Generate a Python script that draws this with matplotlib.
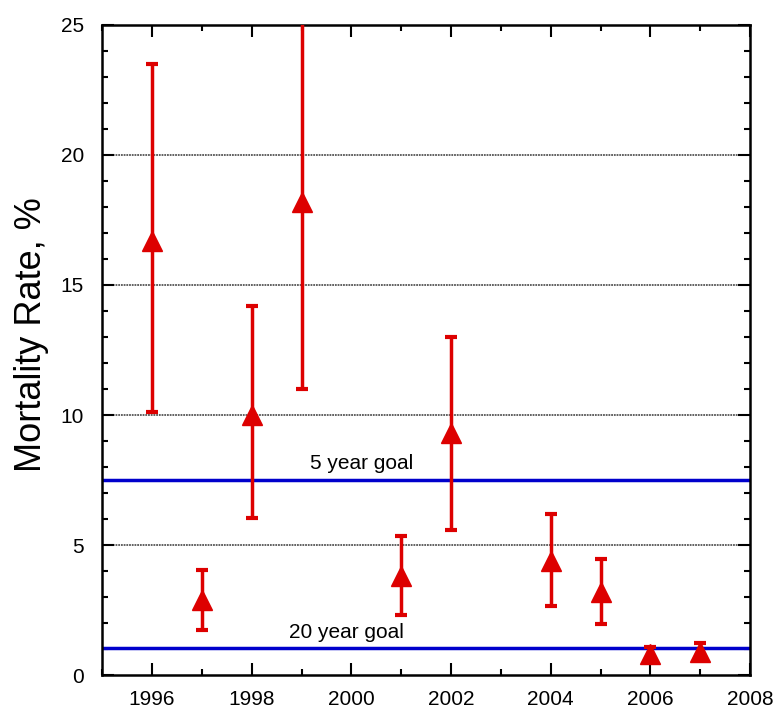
import matplotlib.pyplot as plt
import numpy as np
from matplotlib.ticker import MultipleLocator

plt.rcParams['font.family'] = ['Liberation Sans', 'DejaVu Sans']

# Mortality rate by year with error bar ranges
years = [1996, 1997, 1998, 1999, 2001, 2002, 2004, 2005, 2006, 2007]
rate = [16.7, 2.9, 10.0, 18.2, 3.8, 9.3, 4.4, 3.2, 0.8, 0.9]
low = [10.1, 1.75, 6.05, 11.0, 2.3, 5.6, 2.65, 1.95, 0.6, 0.75]
high = [23.5, 4.05, 14.2, 26.0, 5.35, 13.0, 6.2, 4.45, 1.1, 1.25]

goal_5yr = 7.5
goal_20yr = 1.05
grid_levels = [5, 10, 15, 20]

rate = np.array(rate)
yerr = [rate - np.array(low), np.array(high) - rate]

fig = plt.figure(figsize=(7.74, 7.10), dpi=100)
ax = fig.add_axes([0.132, 0.049, 0.837, 0.916])

# gridlines and goal lines
for g in grid_levels:
    ax.axhline(g, color='#555555', lw=1.3, ls=(0, (1, 0.5)), zorder=1)
ax.axhline(goal_5yr, color='#0000cc', lw=2.5, zorder=2)
ax.axhline(goal_20yr, color='#0000cc', lw=2.5, zorder=2)
ax.text(2000.2, 8.15, '5 year goal', ha='center', va='center', fontsize=15)
ax.text(1999.9, 1.65, '20 year goal', ha='center', va='center', fontsize=15)

# data points
ax.errorbar(years, rate, yerr=yerr, fmt='^', color='#dd0000', ms=15,
            elinewidth=2.5, capsize=4, capthick=3, zorder=3)

ax.set_xlim(1995, 2008)
ax.set_ylim(0, 25)
ax.xaxis.set_major_locator(MultipleLocator(2))
ax.xaxis.set_minor_locator(MultipleLocator(1))
ax.yaxis.set_major_locator(MultipleLocator(5))
ax.yaxis.set_minor_locator(MultipleLocator(1))
ax.tick_params(which='both', direction='in', top=True, right=True, width=1.5)
ax.tick_params(which='major', length=8.5, labelsize=15)
ax.tick_params(axis='x', which='major', pad=11)
ax.tick_params(axis='y', which='major', pad=13)
ax.tick_params(which='minor', length=4.5)
for s in ax.spines.values():
    s.set_linewidth(1.8)

ax.set_ylabel('Mortality Rate, %', fontsize=26)
ax.yaxis.set_label_coords(-0.082, 0.523)

fig.savefig('out.png', dpi=100)
